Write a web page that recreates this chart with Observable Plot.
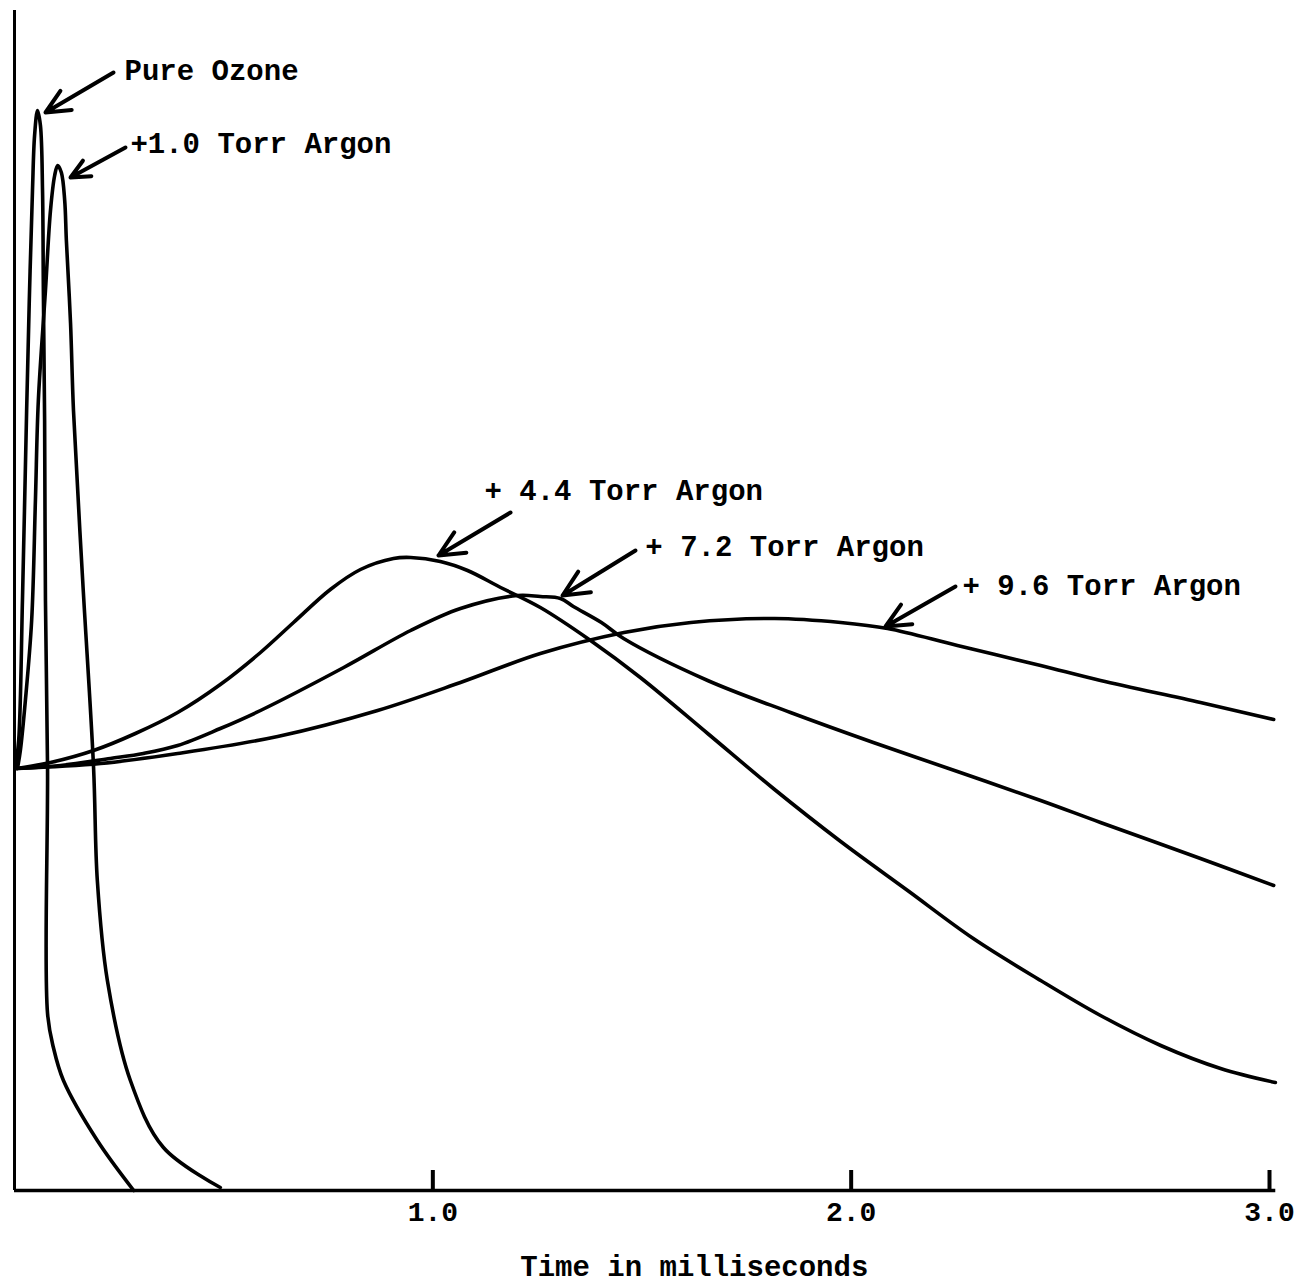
<!DOCTYPE html>
<html><head><meta charset="utf-8">
<script src="https://cdn.jsdelivr.net/npm/d3@7"></script>
<script src="https://cdn.jsdelivr.net/npm/@observablehq/plot@0.6"></script>
<style>html,body{margin:0;padding:0;background:#fff}</style>
</head><body><div id="chart"></div>
<script>
// Time (ms) and relative signal for each trace
const pureOzoneT = [0.002,0.010,0.019,0.029,0.036,0.043,0.048,0.055,0.062,0.067,0.069,0.072,0.074,0.079,0.079,0.093,0.117,0.198,0.285];
const pureOzoneV = [42.2,45.0,59.0,78.0,90.0,100.0,105.5,108.0,106.5,100.0,90.0,77.0,59.0,42.3,17.7,14.3,11.0,5.0,0.0];

const argon10T = [0.007,0.014,0.026,0.041,0.050,0.057,0.074,0.086,0.096,0.103,0.112,0.120,0.124,0.134,0.141,0.163,0.189,0.198,0.222,0.277,0.356,0.492];
const argon10V = [42.2,44.0,49.0,57.0,69.0,79.0,90.0,98.0,101.5,102.5,101.8,99.0,95.0,86.7,78.0,61.0,42.3,31.0,21.0,11.0,4.3,0.3];

const argon44T = [0.005,0.086,0.189,0.289,0.390,0.492,0.588,0.667,0.755,0.827,0.906,0.947,1.018,1.083,1.162,1.257,1.377,1.496,1.657,1.814,1.975,2.135,2.292,2.453,2.596,2.740,2.883,3.014];
const argon44V = [42.2,42.8,44.0,45.7,47.8,50.6,53.8,56.8,60.1,62.1,63.2,63.3,62.9,62.0,60.3,58.3,55.0,51.3,45.7,40.2,34.9,30.0,25.2,21.0,17.5,14.5,12.2,10.8];

const argon72T = [0.005,0.110,0.229,0.308,0.390,0.492,0.588,0.787,0.947,1.066,1.202,1.257,1.305,1.336,1.403,1.456,1.657,1.855,2.053,2.254,2.453,2.596,2.835,3.010];
const argon72V = [42.2,42.5,43.2,43.7,44.5,46.2,48.0,52.3,56.0,58.2,59.5,59.4,59.2,58.4,56.8,55.2,51.0,47.8,44.8,41.9,39.0,36.8,33.2,30.5];

const argon96T = [0.005,0.206,0.390,0.629,0.868,1.066,1.257,1.457,1.617,1.817,1.975,2.087,2.254,2.453,2.596,2.835,3.010];
const argon96V = [42.2,42.7,43.7,45.4,48.0,50.8,53.7,55.8,56.8,57.2,56.8,56.2,54.5,52.5,51.0,48.8,47.1];

const seriesNames = ["Pure Ozone", "+1.0 Torr Argon", "+ 4.4 Torr Argon", "+ 7.2 Torr Argon", "+ 9.6 Torr Argon"];
const seriesT = [pureOzoneT, argon10T, argon44T, argon72T, argon96T];
const seriesV = [pureOzoneV, argon10V, argon44V, argon72V, argon96V];

// Annotation label anchors and arrows (data units)
const labelT = [0.263, 0.277, 1.1235, 1.508, 2.266];
const labelV = [112.0, 104.7, 70.0, 64.4, 60.5];
const arrowT1 = [0.2367, 0.2653, 1.1857, 1.4845, 2.2494];
const arrowV1 = [111.8, 104.3, 67.8, 64.0, 60.4];
const arrowT2 = [0.0741, 0.1339, 1.0136, 1.3100, 2.0821];
const arrowV2 = [107.8, 101.3, 63.5, 59.5, 56.4];

const tickValues = [1.0, 2.0, 3.0];
const xTitle = "Time in milliseconds";
const xTitleT = 1.625;

const rows = seriesNames.flatMap((name, k) => seriesT[k].map((t, i) => ({series: name, t, v: seriesV[k][i]})));
const labels = seriesNames.map((name, k) => ({text: name, t: labelT[k], v: labelV[k]}));
const arrows = seriesNames.map((name, k) => ({t1: arrowT1[k], v1: arrowV1[k], t2: arrowT2[k], v2: arrowV2[k]}));

const font = "'Liberation Mono', 'Courier New', monospace";

const chart = Plot.plot({
  width: 1311,
  height: 1287,
  marginLeft: 14,
  marginRight: 42,
  marginTop: 10,
  marginBottom: 97,
  x: {domain: [0, 3], axis: null},
  y: {domain: [0, 118], axis: null},
  style: {fontFamily: font, background: "#fff", color: "#000"},
  marks: [
    Plot.ruleX([0], {y1: 0, y2: 118, stroke: "#000", strokeWidth: 3}),
    Plot.ruleY([0], {x1: 0, x2: 3.015, stroke: "#000", strokeWidth: 3.5}),
    Plot.ruleX(tickValues, {y1: 0, y2: 2, stroke: "#000", strokeWidth: 4}),
    Plot.axisX(tickValues, {tickSize: 0, tickPadding: 11, tickFormat: d => d.toFixed(1), fontSize: 28, fontWeight: "bold", label: null}),
    Plot.line(rows, {x: "t", y: "v", z: "series", curve: "catmull-rom", stroke: "#000", strokeWidth: 3.6, strokeLinejoin: "round", strokeLinecap: "round"}),
    Plot.arrow(arrows, {x1: "t1", y1: "v1", x2: "t2", y2: "v2", stroke: "#000", strokeWidth: 4, headLength: 20, headAngle: 50}),
    Plot.text(labels, {x: "t", y: "v", text: "text", textAnchor: "start", fontSize: 29, fontWeight: "bold", fill: "#000"}),
    Plot.text([xTitle], {x: xTitleT, frameAnchor: "bottom", dy: 85, fontSize: 29, fontWeight: "bold", fill: "#000"})
  ]
});
document.getElementById("chart").appendChild(chart);
</script>
</body></html>
